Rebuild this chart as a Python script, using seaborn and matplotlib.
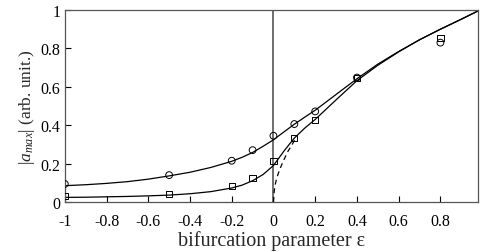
import matplotlib
matplotlib.use("Agg")
import matplotlib.pyplot as plt
import seaborn as sns
import pandas as pd

# measured points
eps_pts = [-1.0, -0.5, -0.2, -0.1, 0.0, 0.1, 0.2, 0.4, 0.8]
amp_circles = [0.094, 0.14, 0.215, 0.27, 0.345, 0.406, 0.472, 0.648, 0.83]
amp_squares = [0.03, 0.04, 0.085, 0.125, 0.215, 0.333, 0.427, 0.645, 0.855]

# fitted curves
eps_fit = [-1.0, -0.9, -0.8, -0.7, -0.6, -0.5, -0.4, -0.3, -0.2, -0.15, -0.1, -0.05,
           0.0, 0.05, 0.1, 0.15, 0.2, 0.3, 0.4, 0.5, 0.6, 0.7, 0.8, 0.9, 0.98]
amp_fit_upper = [0.085, 0.09, 0.097, 0.106, 0.119, 0.136, 0.155, 0.18, 0.212, 0.233, 0.258, 0.29,
                 0.324, 0.365, 0.405, 0.442, 0.478, 0.56, 0.642, 0.718, 0.784, 0.845, 0.9, 0.952, 0.995]
amp_fit_lower = [0.024, 0.025, 0.027, 0.029, 0.032, 0.036, 0.043, 0.054, 0.073, 0.088, 0.111, 0.143,
                 0.19, 0.265, 0.333, 0.385, 0.43, 0.532, 0.632, 0.712, 0.782, 0.845, 0.9, 0.952, 0.995]

# dashed branch near onset
eps_dash = [0.0, 0.003, 0.008, 0.016, 0.03, 0.05, 0.07, 0.09, 0.11]
amp_dash = [0.0, 0.05, 0.09, 0.126, 0.17, 0.22, 0.265, 0.30, 0.34]

xticks = [-1, -0.8, -0.6, -0.4, -0.2, 0, 0.2, 0.4, 0.6, 0.8, 1]
xtick_labels = ["-1", "-0.8", "-0.6", "-0.4", "-0.2", "0", "0.2", "0.4", "0.6", "0.8", "1"]
yticks = [0, 0.2, 0.4, 0.6, 0.8, 1]
ytick_labels = ["0", "0.2", "0.4", "0.6", "0.8", "1"]

sns.set_style("ticks")
plt.rcParams["font.family"] = ["Liberation Serif", "DejaVu Serif"]
plt.rcParams["mathtext.fontset"] = "custom"
plt.rcParams["mathtext.rm"] = "Liberation Serif"
plt.rcParams["mathtext.it"] = "Liberation Serif:italic"
plt.rcParams["axes.unicode_minus"] = False

fig = plt.figure(figsize=(4.81, 2.53), dpi=100)
ax = fig.add_axes([0.1347, 0.1976, 0.859, 0.7589])
for sp in ax.spines.values():
    sp.set_clip_on(False)

ax.axvline(0, color="#555555", lw=1.2, zorder=1)

fit_df = pd.DataFrame({"eps": eps_fit, "upper": amp_fit_upper, "lower": amp_fit_lower})
sns.lineplot(data=fit_df, x="eps", y="upper", color="black", lw=0.9, ax=ax)
sns.lineplot(data=fit_df, x="eps", y="lower", color="black", lw=0.9, ax=ax)
dash_df = pd.DataFrame({"eps": eps_dash, "amp": amp_dash})
sns.lineplot(data=dash_df, x="eps", y="amp", color="black", lw=0.9, ax=ax,
             linestyle=(0, (4, 3)))

pts = pd.DataFrame({"eps": eps_pts, "circ": amp_circles, "sq": amp_squares})
sns.scatterplot(data=pts, x="eps", y="circ", marker="o", s=24, facecolor="none",
                edgecolor="black", linewidth=0.7, ax=ax, zorder=3)
sns.scatterplot(data=pts, x="eps", y="sq", marker="s", s=20, facecolor="none",
                edgecolor="black", linewidth=0.7, ax=ax, zorder=3)

ax.set_xlim(-1, 0.98)
ax.set_ylim(0, 1)
ax.set_xticks(xticks[:-1])
ax.set_xticklabels(xtick_labels[:-1])
ax.set_yticks(yticks)
ax.set_yticklabels(ytick_labels)
ax.tick_params(direction="in", length=4, width=0.8, labelsize=11.5, colors="black")
ax.tick_params(axis="x", pad=8)
ax.tick_params(axis="y", pad=3)
# the last x label sits at eps=1, just past the right spine
ax.text(1.0, -0.03, xtick_labels[-1], transform=ax.get_xaxis_transform(),
        ha="center", va="top", fontsize=11.5)
for sp in ax.spines.values():
    sp.set_color("#555555")
    sp.set_linewidth(0.9)

ax.set_xlabel("bifurcation parameter ε", fontsize=14.5, labelpad=1)
ax.set_ylabel(r"$|a_{max}|$ (arb. unit.)", fontsize=12.5, labelpad=3)

fig.savefig("out.png", dpi=100)
